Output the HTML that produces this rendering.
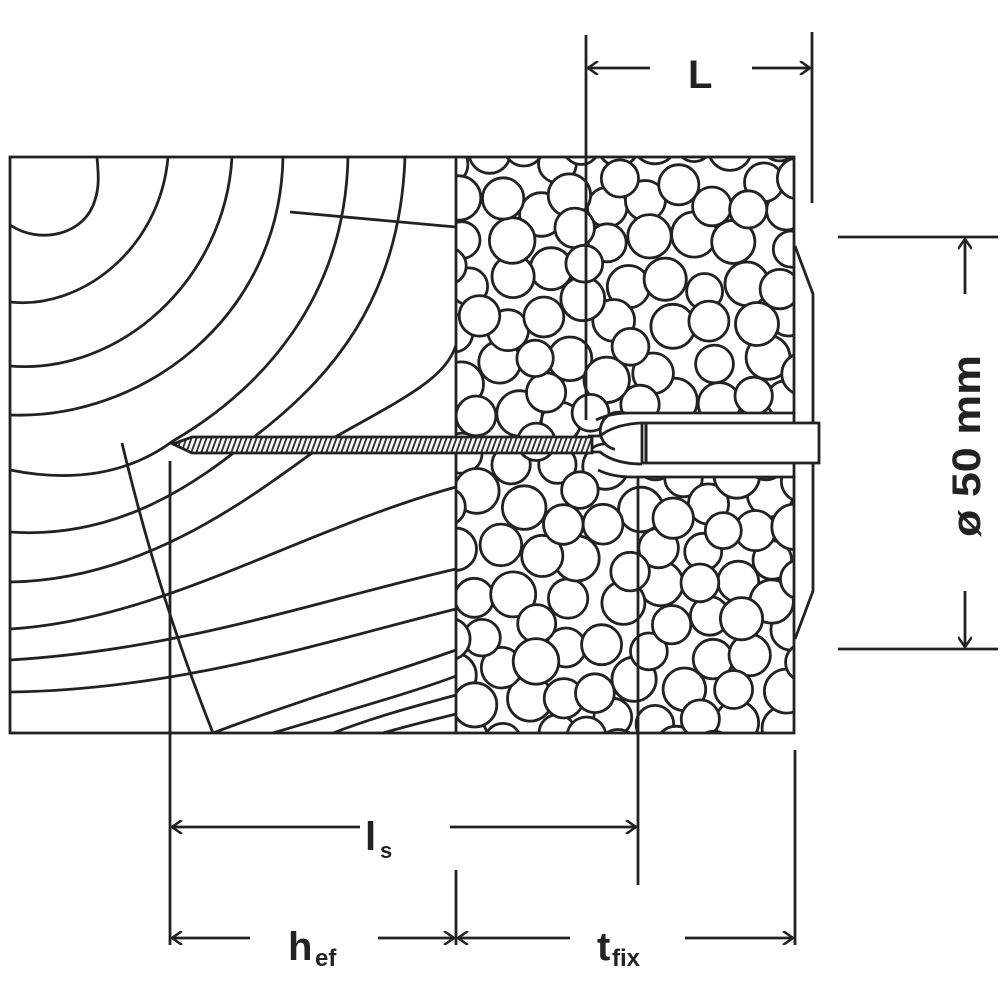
<!DOCTYPE html>
<html><head><meta charset="utf-8"><style>
html,body{margin:0;padding:0;background:#fff}
svg{display:block}
text{font-family:"Liberation Sans Narrow","Liberation Sans",sans-serif;font-weight:bold;fill:#222}
</style></head><body>
<svg id="s" width="1000" height="1000" viewBox="0 0 1000 1000" xmlns="http://www.w3.org/2000/svg">
<defs>
<clipPath id="foam"><path clip-rule="evenodd" d="M456,157H794V733H456Z M615,413H794V477H615Z"/></clipPath>
<pattern id="hatch" width="5" height="20" patternUnits="userSpaceOnUse" patternTransform="skewX(-20)">
<rect width="5" height="20" fill="#fff"/><line x1="1" y1="0" x2="1" y2="20" stroke="#333" stroke-width="2"/>
</pattern>
<marker id="a" markerWidth="14" markerHeight="14" refX="12" refY="7" orient="auto" markerUnits="userSpaceOnUse">
<path d="M2,0 L12,7 L2,14" fill="none" stroke="#222" stroke-width="2.5"/></marker>
</defs>
<g fill="none" stroke="#222" stroke-width="2.8">
<path d="M10,225 C40,245 85,235 95,200 C100,185 98,170 97,157"/>
<path d="M10,302 C80,310 160,250 168,157"/>
<path d="M10,366 C120,375 225,280 232,157"/>
<path d="M10,415 C140,420 280,320 283,157"/>
<path d="M10,470 C60,480 120,480 173,441 C260,390 345,300 348,157"/>
<path d="M10,532 C120,540 200,480 250,440 C330,380 400,300 405,157"/>
<path d="M10,582 C150,580 260,490 330,440 C400,400 445,380 456,345"/>
<path d="M10,629 C160,620 300,530 456,487"/>
<path d="M10,660 C180,650 320,600 456,569"/>
<path d="M10,692 C180,690 330,640 456,609"/>
<path d="M213,733 C300,700 400,670 456,650"/>
<path d="M273,733 C350,710 420,690 456,676"/>
<path d="M333,733 C380,715 420,705 456,695"/>
<path d="M383,733 C410,725 440,718 456,714"/>
<path d="M290,212 L456,227"/>
<path d="M122,443 C150,560 180,650 213,733"/>
</g>
<g id="circles" clip-path="url(#foam)" stroke="#222" stroke-width="2.8" fill="#fff"></g>
<g fill="none" stroke="#222" stroke-width="2.8">
<rect x="10" y="157" width="784" height="576"/>
<line x1="456" y1="157" x2="456" y2="733"/>
<line x1="586" y1="35" x2="586" y2="420"/>
<line x1="638" y1="477" x2="638" y2="885"/>
<line x1="170" y1="461" x2="170" y2="945"/>
<line x1="456" y1="870" x2="456" y2="945"/>
<line x1="795" y1="750" x2="795" y2="945"/>
<line x1="812" y1="32" x2="812" y2="203"/>
<path d="M795,246 L813,294 L813,422"/>
<path d="M813,463 L813,591 L795,639"/>
<path d="M596,420 Q610,413 630,413 L794,413"/>
<path d="M598,470 Q612,477 632,477 L794,477"/>
<path d="M588,436 L600,436 Q615,424 642,423"/>
<path d="M588,452 L600,452 Q615,464 642,464"/>
</g>
<rect x="642" y="423" width="177" height="40" fill="#fff" stroke="#222" stroke-width="2.8"/>
<line x1="646" y1="423" x2="646" y2="463" stroke="#222" stroke-width="3"/>
<path d="M173,444 L192,437 L592,437 L592,453 L192,453 Z" fill="url(#hatch)" stroke="#222" stroke-width="2.8"/>
<g stroke="#222" stroke-width="2.8" fill="none">
<line x1="650" y1="68" x2="588" y2="68" marker-end="url(#a)"/>
<line x1="752" y1="68" x2="810" y2="68" marker-end="url(#a)"/>
<line x1="838" y1="237" x2="998" y2="237"/>
<line x1="838" y1="649" x2="998" y2="649"/>
<line x1="965" y1="294" x2="965" y2="239" marker-end="url(#a)"/>
<line x1="965" y1="591" x2="965" y2="647" marker-end="url(#a)"/>
<line x1="360" y1="827" x2="172" y2="827" marker-end="url(#a)"/>
<line x1="450" y1="827" x2="636" y2="827" marker-end="url(#a)"/>
<line x1="250" y1="938" x2="172" y2="938" marker-end="url(#a)"/>
<line x1="378" y1="938" x2="454" y2="938" marker-end="url(#a)"/>
<line x1="570" y1="938" x2="458" y2="938" marker-end="url(#a)"/>
<line x1="685" y1="938" x2="793" y2="938" marker-end="url(#a)"/>
</g>
<text x="688" y="88" font-size="40">L</text>
<text x="365" y="850" font-size="40">l</text><text x="380" y="858" font-size="22">s</text>
<text x="288" y="960" font-size="40">h</text><text x="315" y="966" font-size="24">ef</text>
<text x="597" y="960" font-size="40">t</text><text x="612" y="966" font-size="24">fix</text>
<text transform="translate(980,537) rotate(-90)" font-size="40" textLength="182" lengthAdjust="spacingAndGlyphs">ø 50 mm</text>
</svg>
<script>
(function(){
var s=24680;function rnd(){s=(s*1103515245+12345)%2147483648;return s/2147483648;}
var cs=[];var g=document.getElementById('circles');
for(var i=0;i<40000&&cs.length<500;i++){
 var r=18+rnd()*5;var x=445+rnd()*360;var y=140+rnd()*610;
 var ok=true;
 for(var j=0;j<cs.length;j++){var c=cs[j];var dx=c[0]-x,dy=c[1]-y;if(Math.sqrt(dx*dx+dy*dy)<(c[2]+r)*0.78){ok=false;break;}}
 if(ok)cs.push([x,y,r]);
}
var h='';
for(var k=0;k<cs.length;k++){h+='<circle cx="'+cs[k][0].toFixed(1)+'" cy="'+cs[k][1].toFixed(1)+'" r="'+cs[k][2].toFixed(1)+'"/>';}
g.innerHTML=h;
})();
</script>
</body></html>
